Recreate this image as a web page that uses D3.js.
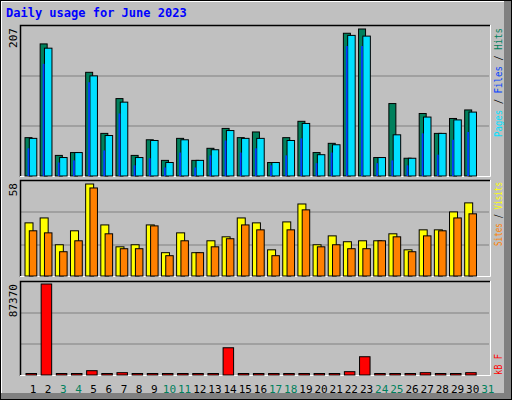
<!DOCTYPE html><html><head><meta charset="utf-8"><script src="https://cdn.jsdelivr.net/npm/d3@7"></script>
<style>body{margin:0;background:#fff}</style></head><body><svg id="c" width="512" height="400"></svg>
<script>
const days=d3.range(1,32);
const weekend=[3,4,10,11,17,18,24,25,31];
const hits=[54,186,29,33,146,60,109,29,51,22,53,22,39,67,54,62,19,54,77,33,46,201,207,26,102,25,88,60,81,93,0];
const files=[53,180,26,33,141,57,104,26,50,19,51,22,37,64,53,53,19,50,74,30,44,198,197,26,58,25,83,60,79,90,0];
const pages=[39,158,19,22,132,36,88,15,25,12,33,12,29,50,33,39,15,29,53,18,33,183,183,18,22,15,60,30,51,62,0];
const visits=[33.5,36.6,19.7,28.5,58,32.2,18.4,19.7,32.2,14.7,27.2,14.7,22.2,24.7,36.6,33.5,16.5,34.1,45.4,19.7,25.3,21.6,22.2,22.2,26.6,16.5,29.1,29.1,40.4,46.1,0];
const sites=[28.5,27.2,15.3,22.2,55.5,26.6,17.2,17.2,31.6,12.8,22.2,14.7,18.4,23.5,32.2,29.1,12.8,29.1,41.7,18.4,19.7,17.2,17.2,22.2,24.7,15.3,25.3,28.5,36.6,39.2,0];
const kbytes=[300,87370,300,300,4145,300,2230,300,300,300,300,300,300,26150,300,300,300,300,300,300,300,3190,17540,300,300,300,2230,300,300,2230,0];
const maxLabels=["207","58","87370"];

const svg=d3.select("#c");
const mono="'DejaVu Sans Mono',monospace";
svg.append("rect").attr("x",0).attr("y",0).attr("width",512).attr("height",400).attr("fill","#000");
svg.append("rect").attr("x",1).attr("y",1).attr("width",510).attr("height",398).attr("fill","#808080");
svg.append("rect").attr("x",1).attr("y",1).attr("width",503).attr("height",392).attr("fill","#fff");
svg.append("rect").attr("x",2).attr("y",2).attr("width",502).attr("height",391).attr("fill","#C0C0C0");
svg.append("text").attr("x",6).attr("y",17).attr("font-family",mono).attr("font-weight","bold").attr("font-size",12).attr("fill","#0000FF").text("Daily usage for June 2023");

const x=d3.scaleLinear().domain([1,32]).range([20,490]);
const panels=[
 {top:25,bot:177,y:d3.scaleLinear().domain([0,207]).range([176,29])},
 {top:180,bot:277,y:d3.scaleLinear().domain([0,58]).range([276,184])},
 {top:281,bot:376,y:d3.scaleLinear().domain([0,87370]).range([375,284])}
];
panels.forEach((p,i)=>{
  svg.append("rect").attr("x",20).attr("y",p.top).attr("width",470).attr("height",p.bot-p.top).attr("fill","#C0C0C0");
  const h=p.bot-p.top;
  [1,2].forEach(k=>svg.append("line").attr("x1",21).attr("x2",489).attr("y1",p.top+Math.round(h*k/3)).attr("y2",p.top+Math.round(h*k/3)).attr("stroke","#808080").attr("stroke-width",1.2));
  svg.append("path").attr("d",`M20.5,${p.bot}V${p.top+0.5}H490`).attr("stroke","#000").attr("fill","none").attr("stroke-width",1.5);
  svg.append("path").attr("d",`M490.5,${p.top}V${p.bot-0.5}H20`).attr("stroke","#fff").attr("fill","none");
  svg.append("text").attr("transform",`translate(17,${p.top+3}) rotate(-90)`).attr("text-anchor","end").attr("font-family",mono).attr("font-size",11).attr("fill","#000").text(maxLabels[i]);
});
function bars(data,p,dx,w,fill){
  svg.append("g").selectAll("rect").data(data).join("rect")
   .filter(d=>d>0)
   .attr("x",(d,i)=>x(i+1)+dx).attr("width",w)
   .attr("y",d=>Math.min(p.y(d),p.y(0)-1.5)).attr("height",d=>Math.max(p.y(0)-p.y(d),1.5))
   .attr("fill",fill).attr("stroke","#000").attr("stroke-width",1);
}
bars(hits,panels[0],5,7,"#00805C");
bars(files,panels[0],9.3,7.5,"#00E0FF");
svg.append("g").selectAll("rect").data(pages).join("rect").filter(d=>d>0)
 .attr("x",(d,i)=>x(i+1)+7.5).attr("width",1.8)
 .attr("y",d=>panels[0].y(d)).attr("height",d=>panels[0].y(0)-panels[0].y(d)).attr("fill","#0040FF");
bars(visits,panels[1],5,8,"#FFFF00");
bars(sites,panels[1],9.3,7.5,"#FF8000");
bars(kbytes,panels[2],6,10.5,"#FF0000");

svg.append("g").selectAll("text").data(days).join("text")
 .attr("x",d=>x(d)+13).attr("y",393).attr("text-anchor","middle")
 .attr("font-family",mono).attr("font-size",11)
 .attr("fill",d=>weekend.includes(d)?"#00805C":"#000").text(d=>d);

function rlabel(yBottom,len,parts){
  const t=svg.append("text").attr("transform",`translate(502,${yBottom}) rotate(-90)`).attr("font-family",mono).attr("font-size",11)
    .attr("textLength",len).attr("lengthAdjust","spacingAndGlyphs");
  parts.forEach(([s,c])=>t.append("tspan").attr("fill",c).text(s));
}
rlabel(137,109,[["Pages","#00E0FF"],[" / ","#000"],["Files","#0040FF"],[" / ","#000"],["Hits","#00805C"]]);
rlabel(246,64,[["Sites","#FF8000"],[" / ","#000"],["Visits","#FFFF00"]]);
rlabel(375,21,[["kB F","#FF0000"]]);
</script></body></html>
